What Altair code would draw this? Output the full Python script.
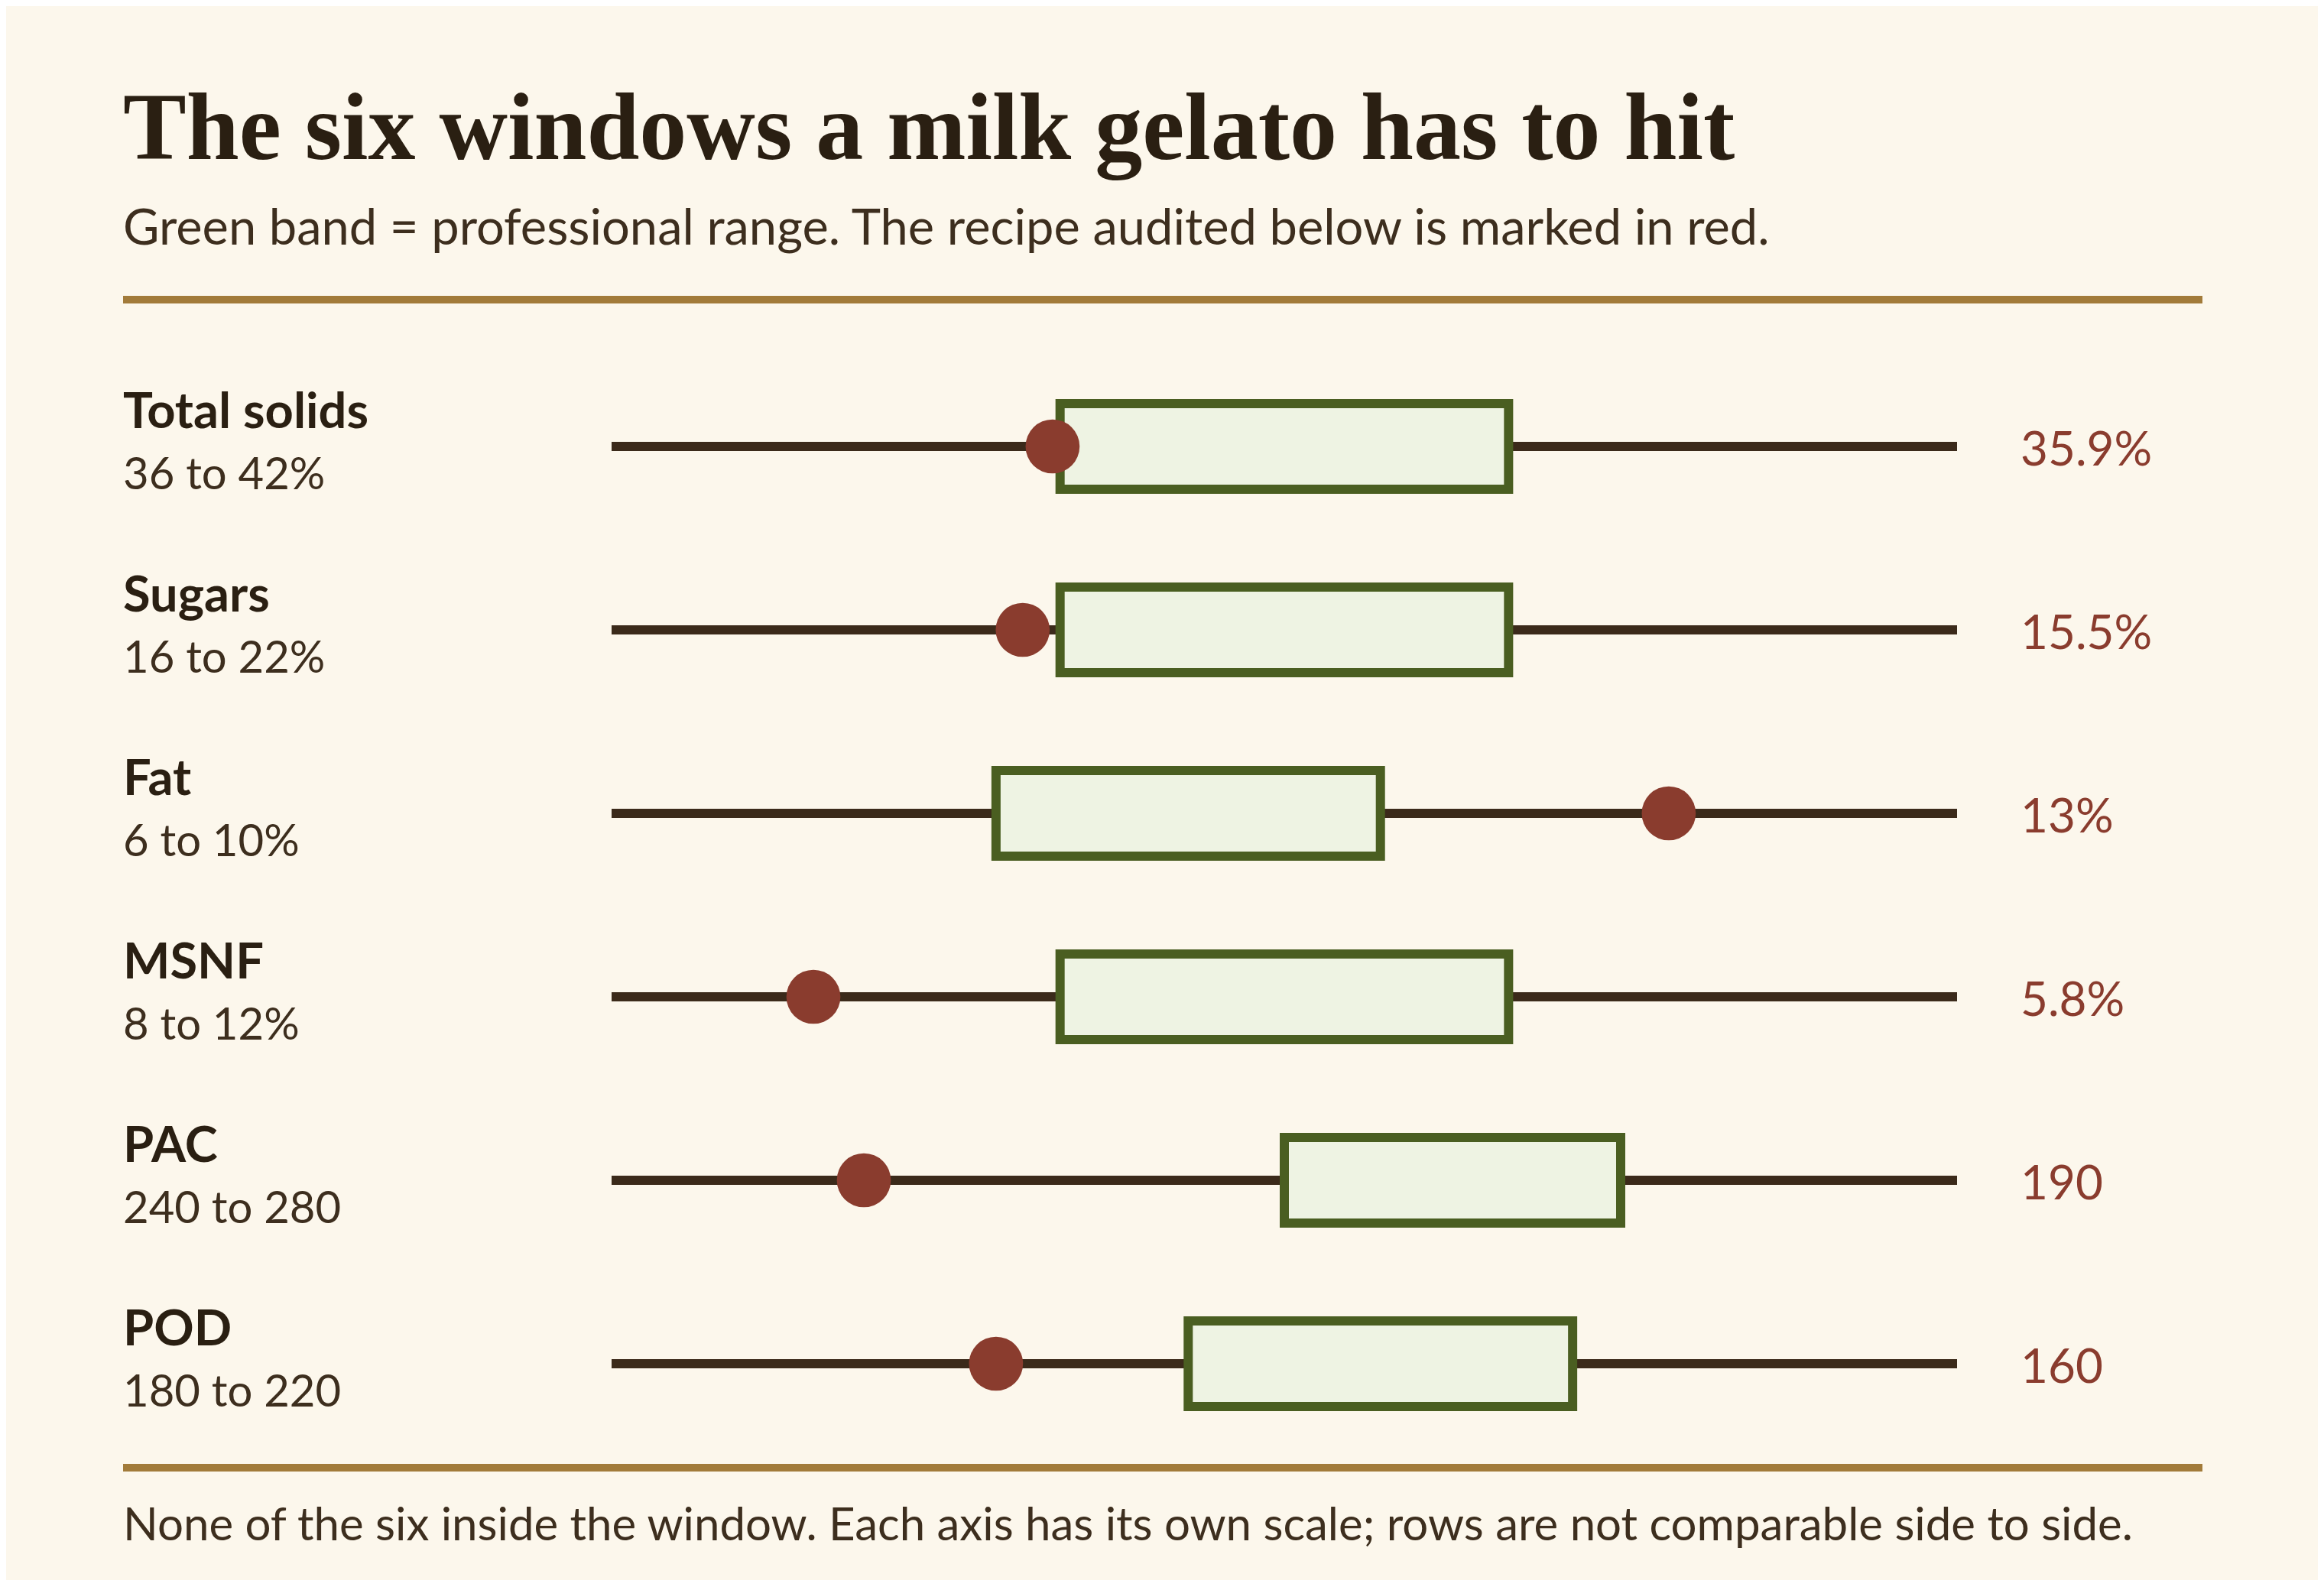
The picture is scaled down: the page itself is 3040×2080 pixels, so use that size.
import altair as alt
import pandas as pd

# one entry per row, top to bottom
names = ["Total solids", "Sugars", "Fat", "MSNF", "PAC", "POD"]
range_labels = ["36 to 42%", "16 to 22%", "6 to 10%", "8 to 12%", "240 to 280", "180 to 220"]
low = [36, 16, 6, 8, 240, 180]
high = [42, 22, 10, 12, 280, 220]
recipe = [35.9, 15.5, 13, 5.8, 190, 160]
recipe_labels = ["35.9%", "15.5%", "13%", "5.8%", "190", "160"]
# each row has its own axis
axis_min = [30, 10, 2, 4, 160, 120]
axis_max = [48, 28, 16, 16, 320, 260]

title = "The six windows a milk gelato has to hit"
subtitle = "Green band = professional range. The recipe audited below is marked in red."
footnote = "None of the six inside the window. Each axis has its own scale; rows are not comparable side to side."

CREAM = "#fcf7ec"
INK = "#2a1f12"
BROWN = "#3d2e1e"
TRACK = "#3b2a1a"
GREEN = "#4a5e21"
PALE = "#eef3e3"
RED = "#8a3c2e"
GOLD = "#a27b3a"
SANS = "Lato"
SERIF = "Liberation Serif"

W = 1760
H = 240
LEFT = -639


def window_row(i):
    row = pd.DataFrame({
        "name": [names[i]],
        "range": [range_labels[i]],
        "low": [low[i]],
        "high": [high[i]],
        "recipe": [recipe[i]],
        "recipe_label": [recipe_labels[i]],
        "axis_min": [axis_min[i]],
        "axis_max": [axis_max[i]],
    })
    xs = alt.Scale(domain=[axis_min[i], axis_max[i]], nice=False, zero=False)
    base = alt.Chart(row)

    track = base.mark_rule(color=TRACK, strokeWidth=12).encode(
        x=alt.X("axis_min:Q", scale=xs, axis=None), x2="axis_max:Q", y=alt.value(120)
    )
    band = base.mark_rect(fill=PALE, stroke=GREEN, strokeWidth=12).encode(
        x=alt.X("low:Q", scale=xs, axis=None), x2="high:Q",
        y=alt.value(64), y2=alt.value(176)
    )
    dot = base.mark_circle(color=RED, opacity=1, size=5000).encode(
        x=alt.X("recipe:Q", scale=xs, axis=None), y=alt.value(120)
    )
    name = base.mark_text(align="left", baseline="alphabetic", font=SANS, fontSize=65,
                          fontWeight="bold", color=INK).encode(
        x=alt.value(LEFT), y=alt.value(96), text="name:N"
    )
    rng = base.mark_text(align="left", baseline="alphabetic", font=SANS, fontSize=58,
                         color=BROWN).encode(
        x=alt.value(LEFT), y=alt.value(176), text="range:N"
    )
    val = base.mark_text(align="left", baseline="alphabetic", font=SANS, fontSize=62,
                         color=RED).encode(
        x=alt.value(1843), y=alt.value(145), text="recipe_label:N"
    )
    layers = [track, band, dot, name, rng, val]

    if i == 0:
        layers += [
            base.mark_text(text=title, align="left", baseline="alphabetic", font=SERIF,
                           fontSize=124, fontWeight="bold", color=INK).encode(
                x=alt.value(LEFT), y=alt.value(-256)),
            base.mark_text(text=subtitle, align="left", baseline="alphabetic", font=SANS,
                           fontSize=65, color=BROWN).encode(
                x=alt.value(LEFT), y=alt.value(-144)),
            base.mark_rule(color=GOLD, strokeWidth=10).encode(
                x=alt.value(LEFT), x2=alt.value(W + 321), y=alt.value(-72)),
        ]
    if i == len(names) - 1:
        layers += [
            base.mark_rule(color=GOLD, strokeWidth=10).encode(
                x=alt.value(LEFT), x2=alt.value(W + 321), y=alt.value(256)),
            base.mark_text(text=footnote, align="left", baseline="alphabetic", font=SANS,
                           fontSize=60, color=BROWN).encode(
                x=alt.value(LEFT), y=alt.value(351)),
        ]
    return alt.layer(*layers).properties(width=W, height=H)


chart = alt.vconcat(*[window_row(i) for i in range(len(names))], spacing=0).properties(
    background=CREAM,
    padding={"left": 148, "top": 101, "right": 146, "bottom": 40},
).configure_view(stroke=None)

chart.save("out.html", embed_options={"renderer": "svg", "actions": False})
